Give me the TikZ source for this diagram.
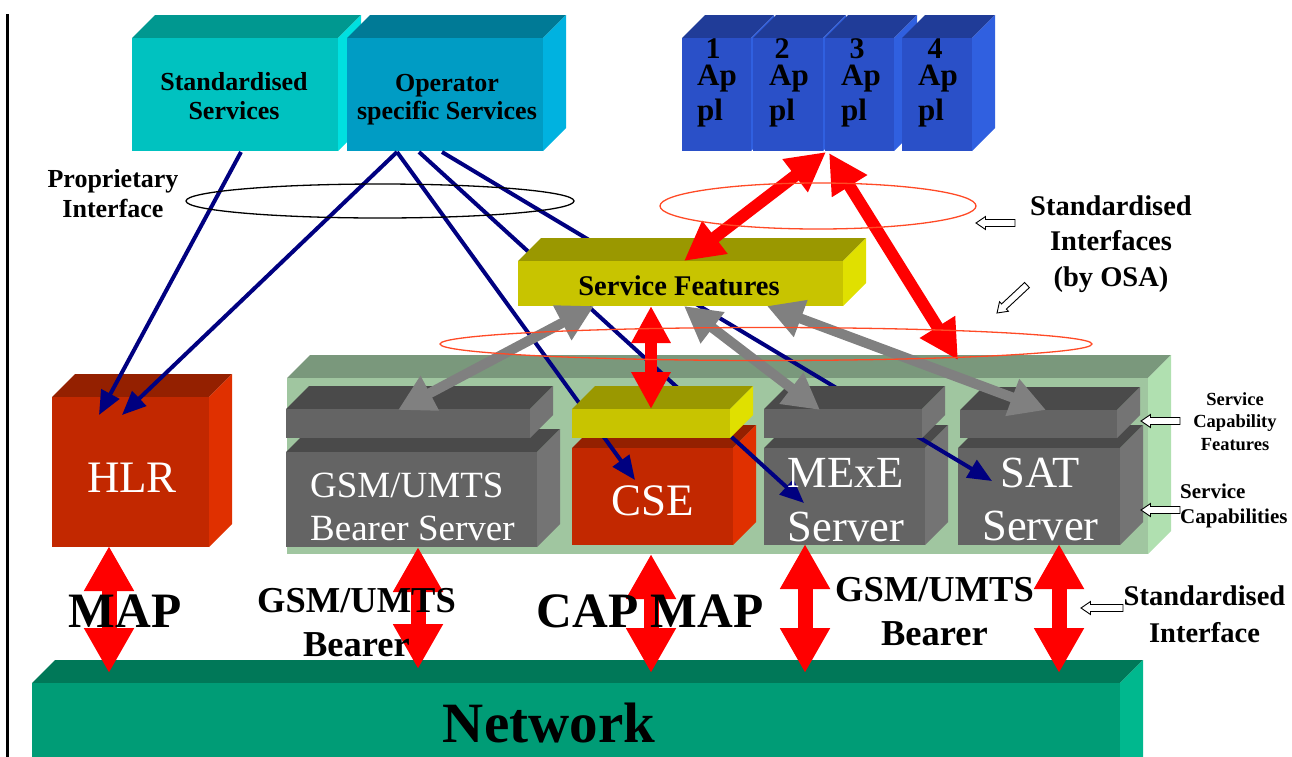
\documentclass[tikz,border=0pt]{standalone}
\usepackage{fontspec}
\setmainfont{Liberation Serif}
\usetikzlibrary{arrows.meta}

% face colours of the blocks
\definecolor{stdfront}{HTML}{00C2C0}
\definecolor{stdtop}{HTML}{009890}
\definecolor{stdside}{HTML}{00E0E0}
\definecolor{opfront}{HTML}{009CC4}
\definecolor{optop}{HTML}{007A96}
\definecolor{opside}{HTML}{00B2E0}
\definecolor{appfront}{HTML}{2A50C8}
\definecolor{apptop}{HTML}{203C98}
\definecolor{appside}{HTML}{3060E0}
\definecolor{sffront}{HTML}{C8C400}
\definecolor{sftop}{HTML}{9A9800}
\definecolor{sfside}{HTML}{E0E000}
\definecolor{grnfront}{HTML}{A0C6A0}
\definecolor{grntop}{HTML}{7A987C}
\definecolor{grnside}{HTML}{B0E0B0}
\definecolor{gryfront}{HTML}{646464}
\definecolor{grytop}{HTML}{4A4A4A}
\definecolor{gryside}{HTML}{747474}
\definecolor{redfront}{HTML}{C22800}
\definecolor{redtop}{HTML}{942000}
\definecolor{redside}{HTML}{E03000}
\definecolor{netfront}{HTML}{009C76}
\definecolor{nettop}{HTML}{007858}
\definecolor{netside}{HTML}{00B88E}
% link colours
\definecolor{navyline}{HTML}{000080}
\definecolor{linkred}{HTML}{FF0000}
\definecolor{linkgray}{HTML}{808080}
\definecolor{ringred}{HTML}{FF4A26}

\newcommand\bdepth{23}
% \cuboid{x1}{y1}{x2}{y2}{front}{top}{side}{name}: a block seen from above right
\newcommand\cuboid[8]{%
  \fill[#6] (#1,#2) -- ++(\bdepth,-\bdepth) -- ({#3+\bdepth},{#2-\bdepth}) -- (#3,#2) -- cycle;
  \fill[#7] (#3,#2) -- ++(\bdepth,-\bdepth) -- ({#3+\bdepth},{#4-\bdepth}) -- (#3,#4) -- cycle;
  \node[box face, fill=#5, minimum width={(#3-#1)*1pt}, minimum height={(#4-#2)*1pt}] (#8) at (#1,#2) {};
}
% \pointer{tip x}{tip y}{length}{angle}: hollow arrow pointing at a layer
\newcommand\pointer[4]{%
  \draw[pointer, rotate around={#4:(#1,#2)}] (#1,#2) -- ++(9.5,-6.5) -- ++(0,3)
    -- ++({#3-9.5},0) -- ++(0,7) -- ++({9.5-#3},0) -- ++(0,3) -- cycle;
}

\tikzset{
  box face/.style={inner sep=0pt, outer sep=0pt, anchor=north west},
  navy link/.style={draw=navyline, line width=4pt, -{Triangle[length=24pt,width=20pt]}},
  bus link/.style={draw=linkred, line width=15pt,
    {Triangle[length=45pt,width=47pt]}-{Triangle[length=45pt,width=47pt]}},
  api link/.style={draw=linkred, line width=12pt,
    {Triangle[length=39pt,width=39pt]}-{Triangle[length=39pt,width=39pt]}},
  sf link/.style={draw=linkred, line width=11.5pt,
    {Triangle[length=37pt,width=37pt]}-{Triangle[length=37pt,width=37pt]}},
  scf link/.style={draw=linkgray, line width=10pt,
    {Triangle[length=36pt,width=37pt]}-{Triangle[length=36pt,width=37pt]}},
  ring/.style={line width=1.3pt},
  pointer/.style={draw=black, fill=white, line width=0.9pt, line join=miter},
  lbl/.style={inner sep=0pt, font=\bfseries\fontsize{#1}{#1}\selectfont},
  wlbl/.style={inner sep=0pt, text=white, font=\fontsize{#1}{#1}\selectfont},
}

\begin{document}
\begin{tikzpicture}[x=1pt,y=-1pt]
\useasboundingbox (0,0) rectangle (1292,756);
\clip (0,0) rectangle (1292,756);

% margin rule
\draw[line width=2.2pt] (7.5,14) -- (7.5,760);

% service blocks
\cuboid{132}{38}{338}{151}{stdfront}{stdtop}{stdside}{std}
\cuboid{347}{38}{543}{151}{opfront}{optop}{opside}{opr}

% applications
\cuboid{682}{38}{751}{151}{appfront}{apptop}{appside}{app1}
\cuboid{753}{38}{823}{151}{appfront}{apptop}{appside}{app2}
\cuboid{825}{38}{894}{151}{appfront}{apptop}{appside}{app3}
\cuboid{902}{38}{972}{151}{appfront}{apptop}{appside}{app4}

% service capability platform
\cuboid{287}{378}{1148}{554}{grnfront}{grntop}{grnside}{platform}

% HLR
\cuboid{52}{397}{209}{547}{redfront}{redtop}{redside}{hlr}

% service capability servers
\cuboid{286}{452}{537}{547}{gryfront}{grytop}{gryside}{gsm}
\cuboid{572}{448}{733}{545}{redfront}{redtop}{redside}{cse}
\cuboid{764}{448}{925}{545}{gryfront}{grytop}{gryside}{mexe}
\cuboid{958}{448}{1120}{545}{gryfront}{grytop}{gryside}{sat}

% link end points
\coordinate (s1) at (241,152);
\coordinate (o1) at (397,152);
\coordinate (o2) at (419,152);
\coordinate (o3) at (442,152);
\coordinate (hlrA) at (99,415);
\coordinate (hlrB) at (122,415);
\coordinate (cseT) at (635,480);
\coordinate (mexeT) at (804,503);
\coordinate (satT) at (992,481);

% proprietary links from the service blocks
\draw[navy link] (s1) -- (hlrA);
\draw[navy link] (o1) -- (hlrB);
\draw[navy link] (o1) -- (cseT);
\draw[navy link] (o2) -- (mexeT);
\draw[navy link] (o3) -- (satT);

% service capability features
\cuboid{286}{409}{530}{438}{gryfront}{grytop}{gryside}{gsmf}
\cuboid{572}{409}{730}{438}{sffront}{sftop}{sfside}{csef}
\cuboid{764}{409}{922}{438}{gryfront}{grytop}{gryside}{mexef}
\cuboid{960}{410}{1117}{438}{gryfront}{grytop}{gryside}{satf}

% service features
\cuboid{518}{261}{843}{306}{sffront}{sftop}{sfside}{sf}

% network
\cuboid{32}{683}{1120}{780}{netfront}{nettop}{netside}{net}

% feature links
\coordinate (sfA) at (594,306);
\coordinate (sfB) at (684,306);
\coordinate (sfC) at (767,306);
\coordinate (sfD) at (651,306);
\coordinate (gsmT) at (398,410);
\coordinate (mexeF) at (820,410);
\coordinate (satF) at (1046,410);
\coordinate (cseF) at (651,409);
\draw[scf link] (sfA) -- (gsmT);
\draw[scf link] (sfB) -- (mexeF);
\draw[scf link] (sfC) -- (satF);

% standardised interfaces
\coordinate (appA) at (826,152);
\coordinate (appB) at (829,153);
\coordinate (sfTop) at (684,261);
\coordinate (scfR) at (958,360);
\draw[api link] (appA) -- (sfTop);
\draw[api link] (appB) -- (scfR);
\draw[sf link] (sfD) -- (cseF);

% network interfaces
\draw[bus link] (109,546) coordinate (hlrN) -- (109,673) coordinate (netA);
\draw[bus link] (418,547) coordinate (gsmN) -- (418,669) coordinate (netB);
\draw[bus link] (651,554) coordinate (cseN) -- (651,673) coordinate (netC);
\draw[bus link] (805,544) coordinate (mexeN) -- (805,673) coordinate (netD);
\draw[bus link] (1059,544) coordinate (satN) -- (1059,673) coordinate (netE);

% interface rings
\draw[ring, black] (380,201) ellipse [x radius=194pt, y radius=17pt];
\draw[ring, ringred] (818,206) ellipse [x radius=158pt, y radius=23pt];
\draw[ring, ringred] (766,344) ellipse [x radius=326pt, y radius=16.5pt];

% pointers
\pointer{976}{223}{39}{0}
\pointer{997}{313}{41}{43}
\pointer{1141}{421}{39}{0}
\pointer{1141}{510}{39}{0}
\pointer{1081}{608}{42}{0}

% block labels
\node[lbl=26, align=center, font=\bfseries\fontsize{26}{29}\selectfont] at (234,96.6) {Standardised\\Services};
\node[lbl=26, align=center, font=\bfseries\fontsize{26}{28}\selectfont] at (447,100) {Operator\\specific Services};
\foreach \n/\cx/\lx in {1/713/697, 2/782/769, 3/857/841, 4/935/918}{
  \node[lbl=30, anchor=base] at (\cx,58) {\n};
  \node[lbl=31, anchor=base west] at (\lx,85) {Ap};
  \node[lbl=31, anchor=base west] at (\lx,120) {pl};
}
\node[lbl=28.5, anchor=base] at (679,295) {Service Features};
\node[wlbl=45, anchor=base] at (132,492) {HLR};
\node[wlbl=37, align=left, anchor=west, font=\fontsize{37}{43}\selectfont] at (310,507) {GSM/UMTS\\Bearer Server};
\node[wlbl=45, anchor=base] at (653,515) {CSE};
\node[wlbl=44.5, align=center, font=\fontsize{44.5}{54}\selectfont] at (846,500.3) {MExE\\Server};
\node[wlbl=44.5, align=center, font=\fontsize{44.5}{53}\selectfont] at (1040.5,499.8) {SAT\\Server};
\node[lbl=57, anchor=base] at (549,742) {Network};

% interface labels
\node[lbl=26, align=center, font=\bfseries\fontsize{26}{30}\selectfont] at (113,193.4) {Proprietary\\Interface};
\node[lbl=28.5, align=center, font=\bfseries\fontsize{28.5}{35.5}\selectfont] at (1111,243.9) {Standardised\\Interfaces\\(by OSA)};
\node[lbl=18.5, align=center, font=\bfseries\fontsize{18.5}{22.5}\selectfont] at (1235,421.2) {Service\\Capability\\Features};
\node[lbl=21, align=left, anchor=west, font=\bfseries\fontsize{21}{25}\selectfont] at (1180,505.8) {Service\\Capabilities};
\node[lbl=49.5, anchor=base] at (125,627) {MAP};
\node[lbl=36.5, align=center, font=\bfseries\fontsize{36.5}{44}\selectfont] at (356.5,622.5) {GSM/UMTS\\Bearer};
\node[lbl=49.5, anchor=base] at (650,627) {CAP MAP};
\node[lbl=36.5, align=center, font=\bfseries\fontsize{36.5}{44}\selectfont] at (934.5,611.5) {GSM/UMTS\\Bearer};
\node[lbl=28.5, align=center, font=\bfseries\fontsize{28.5}{37}\selectfont] at (1204.5,613.8) {Standardised\\Interface};
\end{tikzpicture}
\end{document}
